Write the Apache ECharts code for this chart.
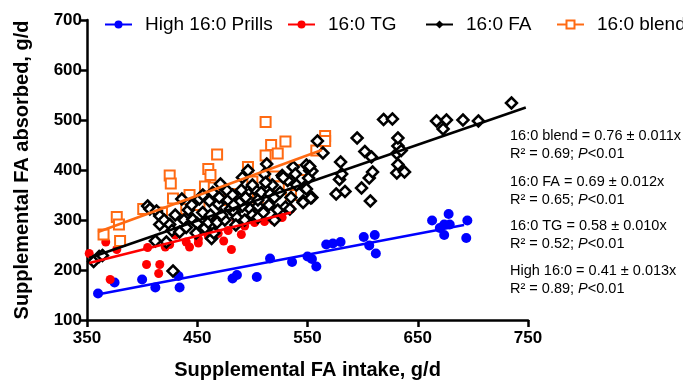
<!DOCTYPE html>
<html><head><meta charset="utf-8">
<script src="https://cdn.jsdelivr.net/npm/echarts@6/dist/echarts.min.js"></script>
<style>html,body{margin:0;padding:0;background:#fff}#c{width:683px;height:385px}</style>
</head><body><div id="c"></div>
<script>
const seriesNames = ['High 16:0 Prills', '16:0 TG', '16:0 FA', '16:0 blend'];
const xTicks = [350, 450, 550, 650, 750];
const yTicks = [100, 200, 300, 400, 500, 600, 700];

const blueData = [[360,153],[375,175],[400,181],[412,165],[433,188],[434,165],[482,183],[486,190],[504,186],[516,223],[536,216],[550,227],[554,222],[558,207],[567,251],[573,253],[580,256],[601,266],[611,270],[606,249],[612,233],[663,299],[678,312],[674,291],[670,284],[679,291],[674,270],[695,299],[694,264]];
const redData = [[352,233],[367,256],[371,181],[377,241],[404,211],[405,245],[415,193],[416,211],[421,246],[425,251],[440,256],[443,246],[451,254],[451,262],[460,268],[465,305],[469,273],[474,258],[478,279],[481,241],[490,271],[493,288],[502,295],[511,297],[519,299],[527,305],[535,322],[430,270],[458,290],[485,300]];
const orangeData = [[365,271],[377,306],[379,291],[380,258],[401,322],[418,315],[425,389],[426,373],[428,343],[443,350],[457,367],[460,402],[462,390],[465,365],[468,431],[440,322],[452,330],[475,340],[485,352],[496,406],[500,377],[505,345],[512,496],[512,429],[517,450],[520,387],[523,433],[524,367],[530,457],[535,350],[545,400],[558,439],[566,468],[566,458]];
const blackData = [[356,217],[361,227],[364,229],[405,328],[407,322],[413,318],[416,308],[416,291],[420,300],[425,291],[427,279],[428,198],[434,276],[412,258],[422,256],[436,342],[430,310],[438,300],[442,320],
[446,301],[450,293],[449,274],[452,342],[457,284],[460,295],[461,338],[463,263],[465,274],[468,295],[469,332],[471,372],[477,359],[480,322],[484,315],[491,328],[498,322],[505,328],[475,300],[478,340],[482,350],[486,305],[488,335],[491,385],[494,345],[496,399],[497,360],[500,310],[502,362],[505,340],[508,355],[511,392],[513,412],[515,330],[516,352],[518,370],[520,345],[523,320],[527,389],[530,326],[532,379],[534,322],[537,406],[539,392],[528,385],[546,338],[547,365],[549,410],[552,399],[554,345],[549,362],[553,344],[546,335],[551,384],[554,398],[552,407],[559,458],[564,434],
[445,330],[455,315],[462,310],[472,310],[485,290],[493,300],[505,305],[510,315],[520,300],[483,330],[440,285],[455,350],[464,355],[470,345],[490,360],[500,370],[512,375],[525,355],[535,345],[540,370],
[576,352],[579,381],[580,416],[581,392],[584,357],[595,464],[599,364],[602,437],[606,384],[607,338],[608,426],[609,396],[619,501],[627,502],[631,394],[631,433],[632,411],[632,448],[632,464],[635,439],[638,396],[667,498],[673,482],[676,500],[691,500],[705,498],[735,534]];

const blueFit = [[357,150],[692,290]];
const redFit = [[352,214],[535,315]];
const blackFit = [[352,224],[748,525]];
const orangeFit = [[360,276],[563,440]];

const annotLines = [
  ['16:0 blend = 0.76 ± 0.011x', 'R² = 0.69; ', 'P', '<0.01'],
  ['16:0 FA = 0.69 ± 0.012x', 'R² = 0.65; ', 'P', '<0.01'],
  ['16:0 TG = 0.58 ± 0.010x', 'R² = 0.52; ', 'P', '<0.01'],
  ['High 16:0 = 0.41 ± 0.013x', 'R² = 0.89; ', 'P', '<0.01']
];

const FONT = '"Liberation Sans", Arial, Helvetica, sans-serif';
const colors = ['#0000FF', '#FF0000', '#000000', '#FF6A13'];

const chart = echarts.init(document.getElementById('c'), null, {renderer: 'canvas'});

function fitSeries(i, data, sym, fill, bw) {
  return {
    type: 'line', name: seriesNames[i], data: data, showSymbol: false,
    symbol: sym, symbolSize: 8, z: 3, silent: true,
    lineStyle: {color: colors[i], width: 2.5},
    itemStyle: {color: fill, borderColor: colors[i], borderWidth: bw}
  };
}

const legendLefts = [99, 282, 420, 551];
const legends = seriesNames.map((n, i) => ({
  data: [n], left: legendLefts[i], top: 10, itemWidth: 27, itemHeight: 10,
  textStyle: {fontFamily: FONT, fontSize: 19, color: '#000', padding: [0, 0, 0, 8]},
  selectedMode: false
}));

const annotY = [136, 182, 226, 271];
const graphics = [];
annotLines.forEach((l, k) => {
  graphics.push({type: 'text', x: 510, y: annotY[k], style: {text: l[0], font: '14.5px ' + FONT, fill: '#000', verticalAlign: 'middle'}});
  graphics.push({type: 'text', x: 510, y: annotY[k] + 18, style: {
    text: l[1] + '{i|' + l[2] + '}' + l[3], font: '14.5px ' + FONT, fill: '#000', verticalAlign: 'middle',
    rich: {i: {fontStyle: 'italic', fontFamily: FONT, fontSize: 14.5}}
  }});
});

chart.setOption({
  animation: false,
  backgroundColor: '#fff',
  legend: legends,
  grid: {left: 87, right: 155, top: 20, bottom: 65},
  xAxis: {
    type: 'value', min: xTicks[0], max: xTicks[xTicks.length - 1], interval: 100,
    name: 'Supplemental FA intake, g/d', nameLocation: 'middle', nameGap: 40,
    nameTextStyle: {fontFamily: FONT, fontSize: 20, fontWeight: 'bold', color: '#000'},
    axisLine: {lineStyle: {color: '#000', width: 2.5}},
    axisTick: {length: 7, lineStyle: {width: 2.5, color: '#000'}},
    axisLabel: {fontFamily: FONT, fontSize: 17, fontWeight: 'bold', color: '#000', margin: 10},
    splitLine: {show: false}
  },
  yAxis: {
    type: 'value', min: yTicks[0], max: yTicks[yTicks.length - 1], interval: 100,
    name: 'Supplemental FA absorbed, g/d', nameLocation: 'middle', nameGap: 55,
    nameTextStyle: {fontFamily: FONT, fontSize: 20, fontWeight: 'bold', color: '#000'},
    axisLine: {show: true, lineStyle: {color: '#000', width: 2.5}},
    axisTick: {show: true, length: 6, lineStyle: {width: 2.5, color: '#000'}},
    axisLabel: {fontFamily: FONT, fontSize: 17, fontWeight: 'bold', color: '#000', margin: 5},
    splitLine: {show: false}
  },
  graphic: graphics,
  series: [
    fitSeries(0, blueFit, 'circle', colors[0], 0),
    fitSeries(1, redFit, 'circle', colors[1], 0),
    fitSeries(2, blackFit, 'diamond', '#000', 0),
    fitSeries(3, orangeFit, 'rect', '#fff', 2),
    {type: 'scatter', name: seriesNames[0], data: blueData, symbol: 'circle', symbolSize: 10, z: 2, itemStyle: {color: colors[0], opacity: 1}},
    {type: 'scatter', name: seriesNames[1], data: redData, symbol: 'circle', symbolSize: 9, z: 2, itemStyle: {color: colors[1], opacity: 1}},
    {type: 'scatter', name: seriesNames[3], data: orangeData, symbol: 'rect', symbolSize: 10, z: 2, itemStyle: {color: '#fff', borderColor: colors[3], borderWidth: 2, opacity: 1}},
    {type: 'scatter', name: seriesNames[2], data: blackData, symbol: 'diamond', symbolSize: 11, z: 2, itemStyle: {color: '#fff', borderColor: colors[2], borderWidth: 2.5, opacity: 1}}
  ]
});
</script></body></html>
